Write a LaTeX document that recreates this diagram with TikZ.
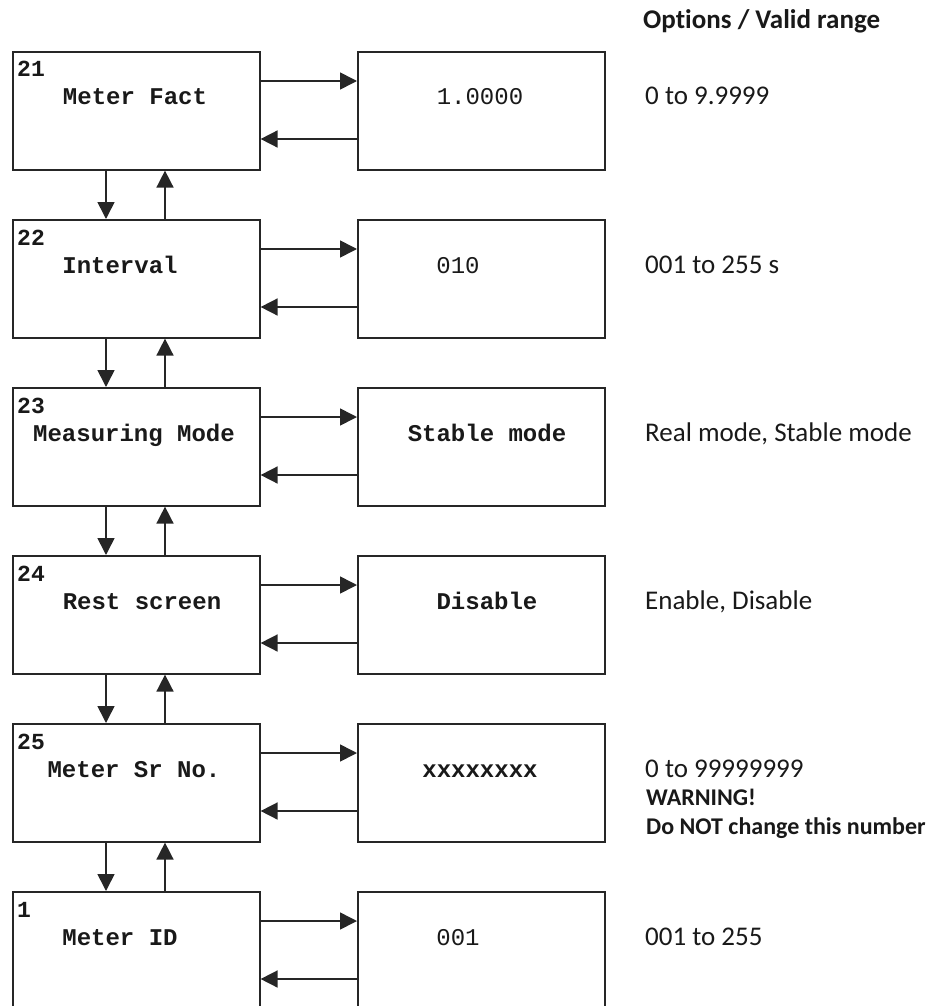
\documentclass[tikz,border=0pt]{standalone}
\usepackage{fontspec}
\setmainfont{Carlito}[Ligatures=NoCommon, RawFeature={-liga;-calt;-dlig}]
\newfontfamily\monofam{Liberation Mono}
\usetikzlibrary{arrows.meta}
\begin{document}
\begin{tikzpicture}[x=1pt,y=-1pt,
  box/.style={draw=black!85, line width=1.6pt, minimum width=247pt, minimum height=118pt, anchor=north west, inner sep=0pt},
  arr/.style={draw=black!85, line width=1.6pt, -{Triangle[length=17pt,width=17pt]}},
  num/.style={anchor=base west, inner sep=0pt, font=\monofam\bfseries\fontsize{23}{25}\selectfont, text=black!90},
  lbl/.style={anchor=base, inner sep=0pt, font=\monofam\bfseries\fontsize{24}{28}\selectfont, text=black!90},
  val/.style={anchor=base, inner sep=0pt, font=\monofam\fontsize{24}{28}\selectfont, text=black!90},
  valb/.style={anchor=base, inner sep=0pt, font=\monofam\bfseries\fontsize{24}{28}\selectfont, text=black!90},
  opt/.style={anchor=base west, inner sep=0pt, font=\fontsize{27}{32}\selectfont, text=black!90},
  warn/.style={anchor=base west, inner sep=0pt, font=\bfseries\fontsize{24}{28}\selectfont, text=black!90},
  ]
\useasboundingbox (0,0) rectangle (933,1006);

% header
\node[opt, font=\bfseries\fontsize{27}{32}\selectfont] (hdr) at (643,29) {Opt{}ions / Valid range};

% boxes
\node[box] (L1) at (12,51) {};
\node[box] (R1) at (357,51) {};
\node[box] (L2) at (12,219) {};
\node[box] (R2) at (357,219) {};
\node[box] (L3) at (12,387) {};
\node[box] (R3) at (357,387) {};
\node[box] (L4) at (12,555) {};
\node[box] (R4) at (357,555) {};
\node[box] (L5) at (12,723) {};
\node[box] (R5) at (357,723) {};
\node[box] (L6) at (12,891) {};
\node[box] (R6) at (357,891) {};

% numbers
\node[num] (n1) at (17,77) {21};
\node[num] (n2) at (17,245) {22};
\node[num] (n3) at (17,413) {23};
\node[num] (n4) at (17,581) {24};
\node[num] (n5) at (17,749) {25};
\node[num] (n6) at (17,917) {1};

% labels
\node[lbl] (t1) at (135,105) {Meter Fact};
\node[lbl] (t2) at (120,273) {Interval};
\node[lbl] (t3) at (134,441) {Measuring Mode};
\node[lbl] (t4) at (142,609) {Rest screen};
\node[lbl] (t5) at (134,777) {Meter Sr No.};
\node[lbl] (t6) at (120,945) {Meter ID};

% values
\node[val] (v1) at (480,105) {1.0000};
\node[val] (v2) at (458,273) {010};
\node[valb] (v3) at (487,441) {Stable mode};
\node[valb] (v4) at (487,609) {Disable};
\node[valb] (v5) at (480,777) {xxxxxxxx};
\node[val] (v6) at (458,945) {001};

% options
\node[opt] (o1) at (645,105) {0 to 9.9999};
\node[opt] (o2) at (645,273) {001 to 255 s};
\node[opt] (o3) at (645,441) {Real mode, Stable mode};
\node[opt] (o4) at (645,609) {Enable, Disable};
\node[opt] (o5) at (645,777) {0 to 99999999};
\node[warn] (w1) at (646,805) {WARNING!};
\node[warn] (w2) at (646,834) {Do NOT change this number};
\node[opt] (o6) at (645,945) {001 to 255};

% horizontal arrows
\foreach \i in {1,...,6}{
  \draw[arr] ([yshift=-30pt]L\i.north east) -- ([yshift=-30pt]R\i.north west);
  \draw[arr] ([yshift=-88pt]R\i.north west) -- ([yshift=-88pt]L\i.north east);
}
% vertical arrows
\foreach \i/\j in {1/2,2/3,3/4,4/5,5/6}{
  \draw[arr] ([xshift=94pt]L\i.south west) -- ([xshift=94pt]L\j.north west);
  \draw[arr] ([xshift=153pt]L\j.north west) -- ([xshift=153pt]L\i.south west);
}
\end{tikzpicture}
\end{document}
